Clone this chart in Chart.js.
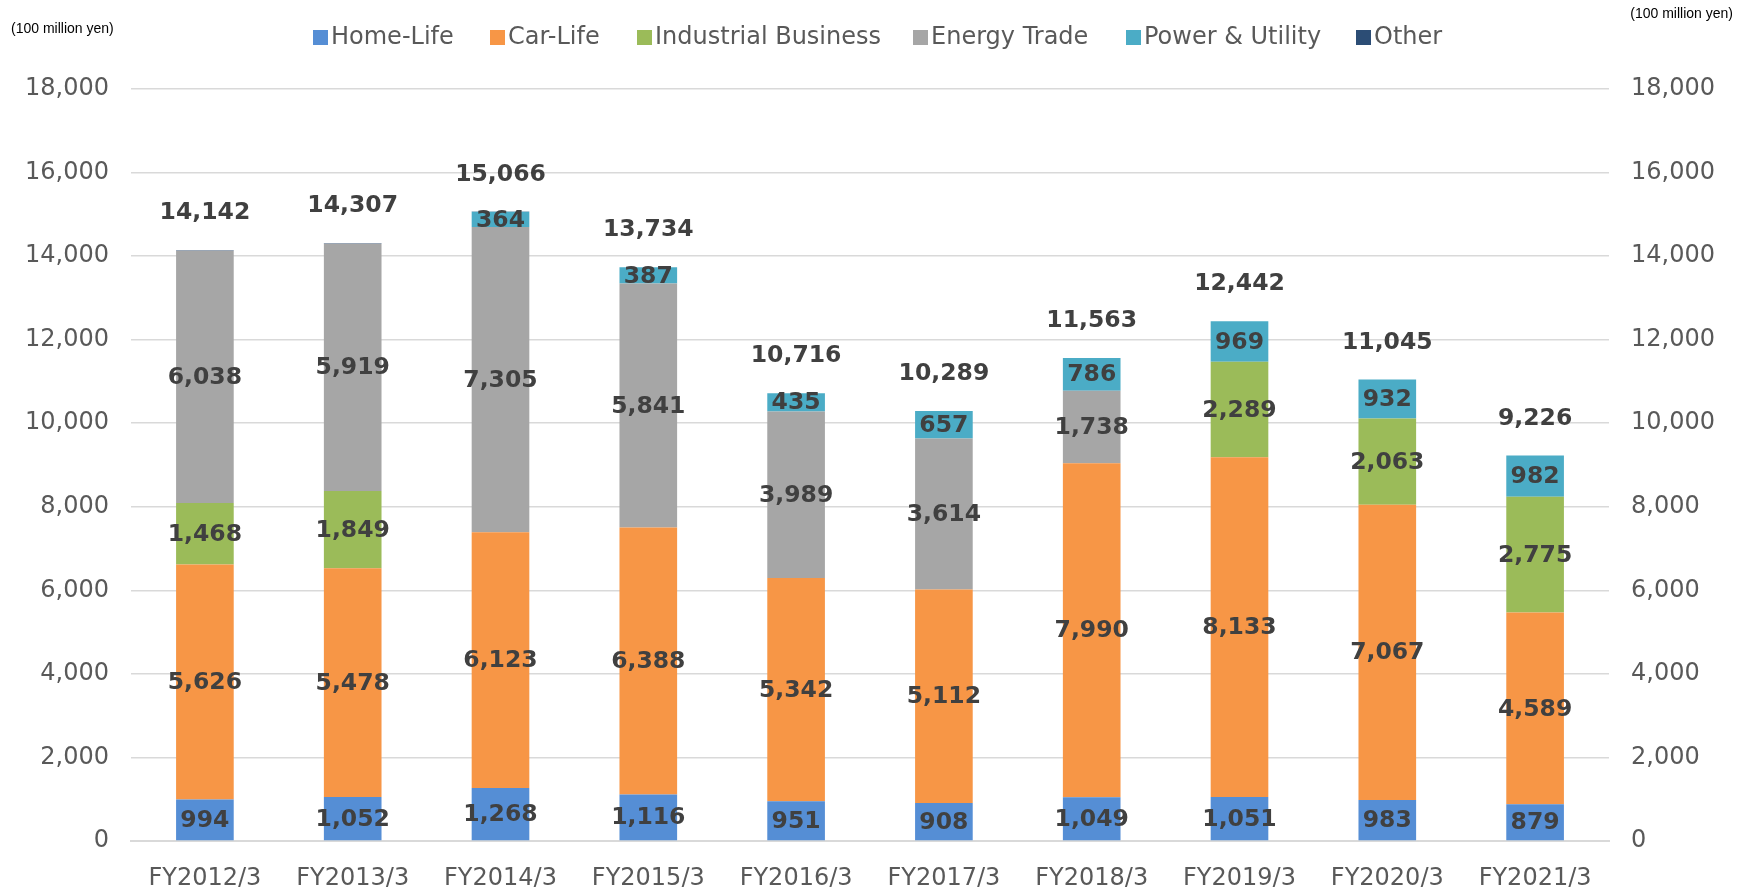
<!DOCTYPE html>
<html>
<head>
<meta charset="utf-8">
<script src="https://cdn.jsdelivr.net/npm/chart.js@4"></script>
<style>
  html, body { margin: 0; padding: 0; background: #fff; }
  #wrap { position: relative; width: 1746px; height: 887px; }
</style>
</head>
<body>
<div id="wrap"><canvas id="chart" width="1746" height="887"></canvas></div>
<script>
// Chart data
const categories = ['FY2012/3', 'FY2013/3', 'FY2014/3', 'FY2015/3', 'FY2016/3', 'FY2017/3', 'FY2018/3', 'FY2019/3', 'FY2020/3', 'FY2021/3'];
const homeLife   = [994, 1052, 1268, 1116, 951, 908, 1049, 1051, 983, 879];
const carLife    = [5626, 5478, 6123, 6388, 5342, 5112, 7990, 8133, 7067, 4589];
const industrial = [1468, 1849, 0, 0, 0, 0, 0, 2289, 2063, 2775];
const energy     = [6038, 5919, 7305, 5841, 3989, 3614, 1738, 0, 0, 0];
const power      = [0, 0, 364, 387, 435, 657, 786, 969, 932, 982];
const other      = [16, 9, 6, 2, 0, 0, 0, 0, 0, 0];
const totals     = [14142, 14307, 15066, 13734, 10716, 10289, 11563, 12442, 11045, 9226];
const yTicks     = [0, 2000, 4000, 6000, 8000, 10000, 12000, 14000, 16000, 18000];

const seriesNames = ['Home-Life', 'Car-Life', 'Industrial Business', 'Energy Trade', 'Power & Utility', 'Other'];
const seriesColors = ['#558ED5', '#F79646', '#9BBB59', '#A6A6A6', '#4BACC6', '#2C4D75'];
const seriesValues = [homeLife, carLife, industrial, energy, power, other];

const fmt = v => v.toLocaleString('en-US');

// Labels inside segments + totals above bars
const labelPlugin = {
    id: 'labels',
    afterDatasetsDraw(chart) {
        const ctx = chart.ctx;
        const yScale = chart.scales.y;
        ctx.save();
        ctx.font = 'bold 23.5px "DejaVu Sans"';
        ctx.fillStyle = '#404040';
        ctx.textAlign = 'center';
        ctx.textBaseline = 'middle';
        chart.data.datasets.forEach((ds, di) => {
            const meta = chart.getDatasetMeta(di);
            meta.data.forEach((bar, i) => {
                const v = ds.data[i];
                if (v < 100) return;
                ctx.fillText(fmt(v), bar.x, (bar.y + bar.base) / 2 + 1);
            });
        });
        const meta0 = chart.getDatasetMeta(0);
        totals.forEach((t, i) => {
            const x = meta0.data[i].x;
            const y = yScale.getPixelForValue(t) - 37;
            ctx.fillText(fmt(t), x, y);
        });
        ctx.restore();
    }
};

// Custom legend and unit captions
const legendPlugin = {
    id: 'customLegend',
    afterDraw(chart) {
        const ctx = chart.ctx;
        ctx.save();
        const boxX = [313, 490, 637, 913, 1126, 1356];
        ctx.font = '24px "DejaVu Sans"';
        ctx.textBaseline = 'middle';
        ctx.textAlign = 'left';
        seriesNames.forEach((name, i) => {
            ctx.fillStyle = seriesColors[i];
            ctx.fillRect(boxX[i], 30, 15, 15);
            ctx.fillStyle = '#595959';
            ctx.fillText(name, boxX[i] + 18, 38);
        });
        ctx.font = '14px "Liberation Sans"';
        ctx.fillStyle = '#000';
        ctx.fillText('(100 million yen)', 11, 29);
        ctx.textAlign = 'right';
        ctx.fillText('(100 million yen)', 1733, 14);
        ctx.restore();
    }
};

const ctx = document.getElementById('chart').getContext('2d');
new Chart(ctx, {
    type: 'bar',
    data: {
        labels: categories,
        datasets: seriesNames.map((name, i) => ({
            label: name,
            data: seriesValues[i],
            backgroundColor: seriesColors[i],
            barPercentage: 0.39,
            categoryPercentage: 1.0,
            borderWidth: 0
        }))
    },
    options: {
        responsive: false,
        animation: false,
        layout: { padding: { top: 89, bottom: 0, left: 0, right: 0 } },
        plugins: {
            legend: { display: false },
            tooltip: { enabled: false }
        },
        scales: {
            x: {
                stacked: true,
                grid: { display: false },
                border: { display: true, color: '#D9D9D9', width: 2 },
                ticks: { color: '#595959', font: { family: 'DejaVu Sans', size: 24 }, padding: 15, maxRotation: 0 },
                afterFit: s => { s.height = 46; }
            },
            y: {
                stacked: true,
                min: 0, max: 18000,
                afterBuildTicks: s => { s.ticks = yTicks.map(v => ({ value: v })); },
                grid: { color: '#D9D9D9', lineWidth: 1.5, drawTicks: false },
                border: { display: false },
                ticks: { color: '#595959', font: { family: 'DejaVu Sans', size: 24 }, padding: 22, callback: v => fmt(v) },
                afterFit: s => { s.width = 131; }
            },
            y2: {
                position: 'right',
                min: 0, max: 18000,
                afterBuildTicks: s => { s.ticks = yTicks.map(v => ({ value: v })); },
                grid: { display: false, drawTicks: false },
                border: { display: false },
                ticks: { color: '#595959', font: { family: 'DejaVu Sans', size: 24 }, padding: 22, callback: v => fmt(v) },
                afterFit: s => { s.width = 137; }
            }
        }
    },
    plugins: [labelPlugin, legendPlugin]
});
</script>
</body>
</html>
